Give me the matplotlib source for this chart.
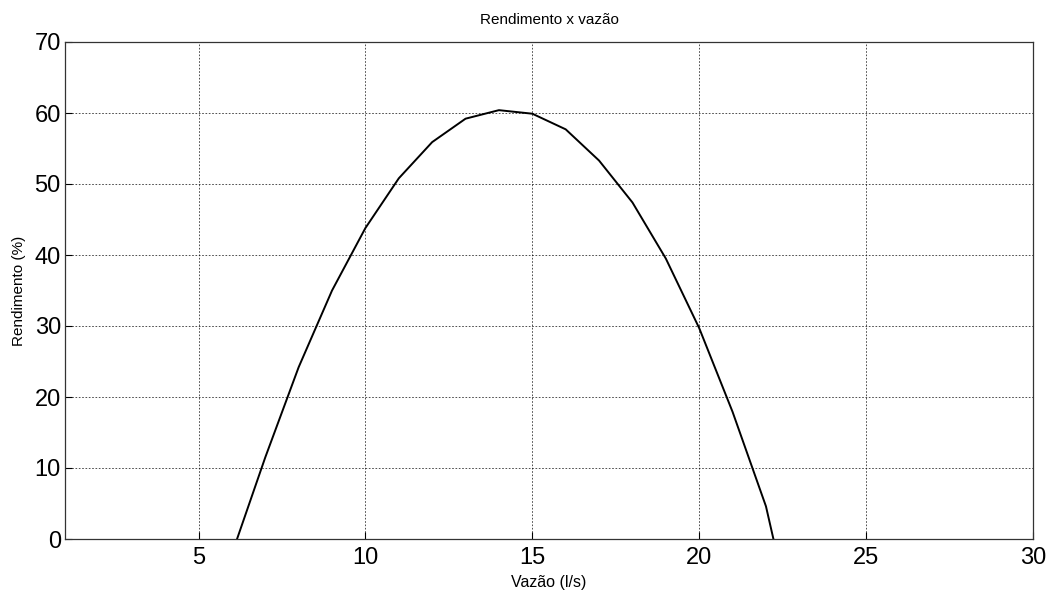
import matplotlib
matplotlib.use("Agg")
import matplotlib.pyplot as plt

vazao = [6, 7, 8, 9, 10, 11, 12, 13, 14, 15, 16, 17, 18, 19, 20, 21, 22, 23]
rendimento = [-2.1, 11.5, 24.2, 35.0, 43.8, 50.8, 55.9, 59.2, 60.4, 59.9,
              57.7, 53.3, 47.4, 39.5, 29.7, 17.9, 4.6, -16.0]
xticks = [5, 10, 15, 20, 25, 30]
yticks = [0, 10, 20, 30, 40, 50, 60, 70]

plt.rcParams['font.family'] = ['Liberation Sans', 'DejaVu Sans']

fig = plt.figure(figsize=(10.5, 5.9), dpi=100)
ax = fig.add_axes([65/1050, 51/590, (1033-65)/1050, (539-42)/590])
ax.plot(vazao, rendimento, color='black', linewidth=1.4)
ax.set_xlim(1, 30)
ax.set_ylim(0, 70)
ax.set_xticks(xticks)
ax.set_yticks(yticks)
ax.tick_params(direction='in', labelsize=17, length=5, width=0.8)
ax.tick_params(axis='x', pad=6)
ax.tick_params(axis='y', pad=3)
ax.grid(True, linestyle=(0, (2, 2)), color='black', linewidth=0.6, alpha=0.8)
for s in ax.spines.values():
    s.set_linewidth(0.9)
    s.set_color('#333333')
ax.set_title('Rendimento x vazão', fontsize=11, pad=13)
ax.set_xlabel('Vazão (l/s)', fontsize=11.5, labelpad=4)
ax.set_ylabel('Rendimento (%)', fontsize=11, labelpad=6)
fig.savefig('out.png', dpi=100)
